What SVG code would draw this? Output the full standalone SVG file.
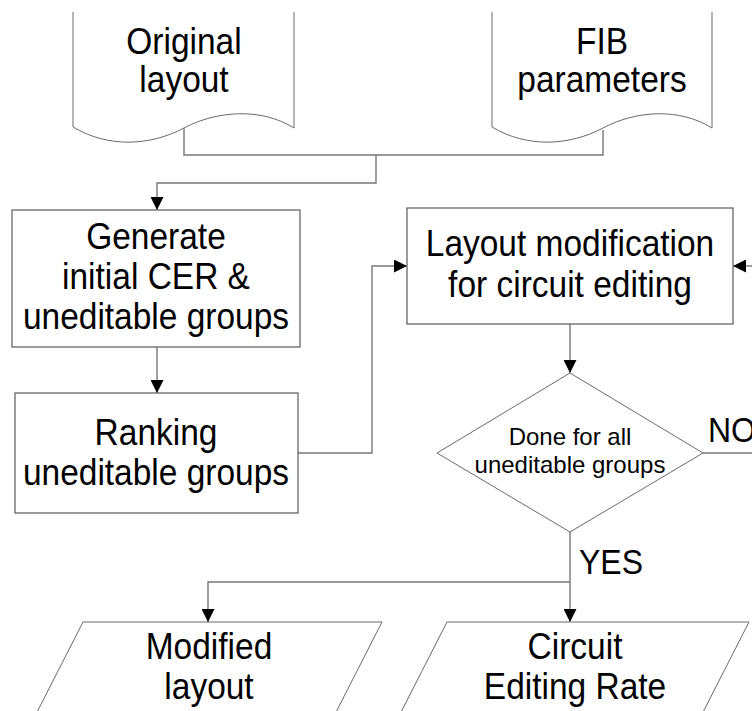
<svg xmlns="http://www.w3.org/2000/svg" width="752" height="711" viewBox="0 0 752 711">
  <style>
    .shape { fill: #ffffff; stroke: #5a5a5a; stroke-width: 1.2; }
    .thin { fill: #ffffff; stroke: #6a6a6a; stroke-width: 1; }
    .conn { fill: none; stroke: #777777; stroke-width: 1.4; }
    .big { font-family: "Liberation Sans", Arial, sans-serif; font-size: 33.5px; fill: #000; text-anchor: middle; }
    .small { font-family: "Liberation Sans", Arial, sans-serif; font-size: 24px; fill: #000; text-anchor: middle; }
    .label { font-family: "Liberation Sans", Arial, sans-serif; font-size: 32px; fill: #000; }
  </style>
  <defs>
    <marker id="arrow" markerUnits="userSpaceOnUse" markerWidth="13" markerHeight="13" refX="13" refY="6.5" orient="auto">
      <path d="M0,0 L13,6.5 L0,13 z" fill="#000"/>
    </marker>
  </defs>
  <rect width="752" height="711" fill="#ffffff"/>

  <!-- connectors -->
  <g id="connectors">
    <path class="conn" d="M184,128 V155 H603 V130"/>
    <path class="conn" d="M376,155 V183 H157 V210" marker-end="url(#arrow)"/>
    <path class="conn" d="M157,347 V393" marker-end="url(#arrow)"/>
    <path class="conn" d="M298,453 H372 V266 H407" marker-end="url(#arrow)"/>
    <path class="conn" d="M760,266 H733" marker-end="url(#arrow)"/>
    <path class="conn" d="M570,324 V373" marker-end="url(#arrow)"/>
    <path class="conn" d="M703,453 H760"/>
    <path class="conn" d="M570,532 V622" marker-end="url(#arrow)"/>
    <path class="conn" d="M570,582 H208 V622" marker-end="url(#arrow)"/>
  </g>

  <!-- document: original layout -->
  <g id="original-layout">
    <path class="thin" d="M73,12 V127 C108,148 150,146 184,128 C218,110 262,108 294,128 V12"/>
    <text class="big" transform="matrix(1 0 0 1.12 184 54)">Original</text>
    <text class="big" transform="matrix(1 0 0 1.12 184 92)">layout</text>
  </g>

  <!-- document: FIB parameters -->
  <g id="fib-parameters">
    <path class="thin" d="M492,12 V127 C527,148 569,146 603,128 C637,110 680,108 712,128 V12"/>
    <text class="big" transform="matrix(1 0 0 1.12 602 54)">FIB</text>
    <text class="big" transform="matrix(1 0 0 1.12 602 92)">parameters</text>
  </g>

  <!-- process: generate initial CER -->
  <g id="generate-cer">
    <rect class="shape" x="12" y="210" width="288" height="137"/>
    <text class="big" transform="matrix(1 0 0 1.12 156 249)">Generate</text>
    <text class="big" transform="matrix(1 0 0 1.12 156 289)">initial CER &amp;</text>
    <text class="big" transform="matrix(1 0 0 1.12 156 329)">uneditable groups</text>
  </g>

  <!-- process: ranking -->
  <g id="ranking">
    <rect class="shape" x="15" y="393" width="283" height="120"/>
    <text class="big" transform="matrix(1 0 0 1.12 156 445)">Ranking</text>
    <text class="big" transform="matrix(1 0 0 1.12 156 485)">uneditable groups</text>
  </g>

  <!-- process: layout modification -->
  <g id="layout-modification">
    <rect class="shape" x="407" y="208" width="326" height="116"/>
    <text class="big" transform="matrix(1 0 0 1.12 570 256)">Layout modification</text>
    <text class="big" transform="matrix(1 0 0 1.12 570 297)">for circuit editing</text>
  </g>

  <!-- decision -->
  <g id="done-decision">
    <polygon class="thin" points="570,373 703,453 570,532 437,453"/>
    <text class="small" x="570" y="445">Done for all</text>
    <text class="small" x="570" y="473">uneditable groups</text>
  </g>

  <g id="branch-labels">
    <text class="label" transform="matrix(1 0 0 1.1 708 442)">NO</text>
    <text class="label" transform="matrix(1 0 0 1.1 579 574)">YES</text>
  </g>

  <!-- output: modified layout -->
  <g id="modified-layout">
    <polygon class="thin" points="83,622 382,622 332,720 33,720"/>
    <text class="big" transform="matrix(1 0 0 1.12 209 659)">Modified</text>
    <text class="big" transform="matrix(1 0 0 1.12 209 699)">layout</text>
  </g>

  <!-- output: circuit editing rate -->
  <g id="circuit-editing-rate">
    <polygon class="thin" points="447,622 749,622 699,720 397,720"/>
    <text class="big" transform="matrix(1 0 0 1.12 575 659)">Circuit</text>
    <text class="big" transform="matrix(1 0 0 1.12 575 699)">Editing Rate</text>
  </g>
</svg>
